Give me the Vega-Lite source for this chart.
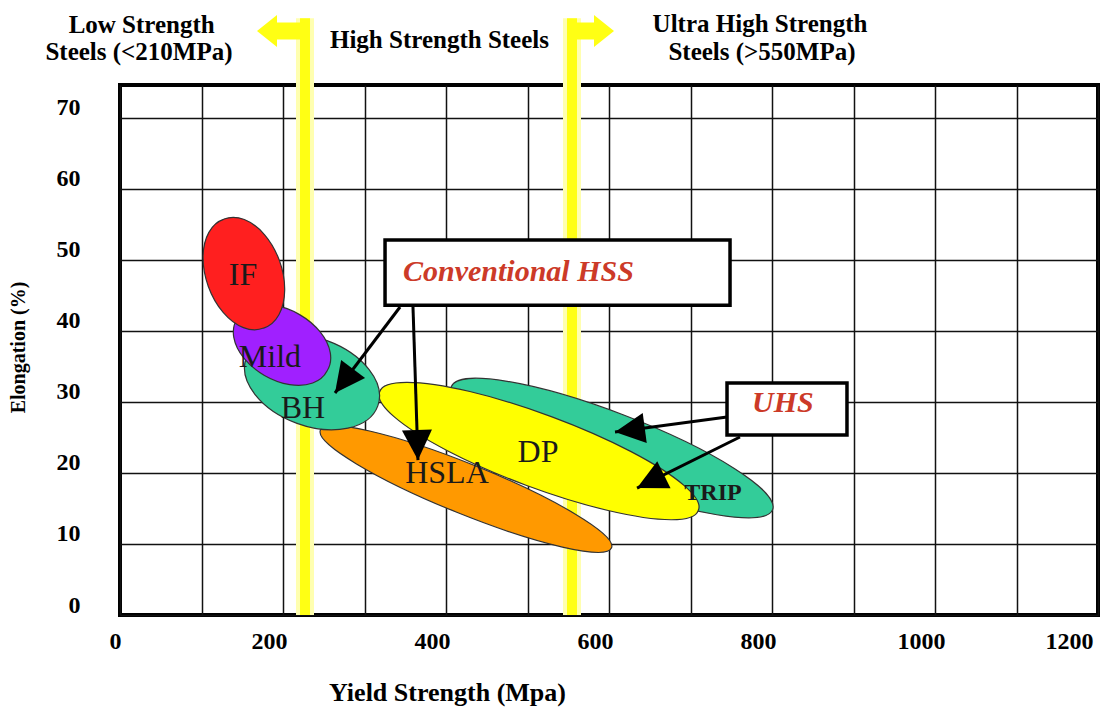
{
  "$schema": "https://vega.github.io/schema/vega-lite/v6.json",
  "width": 978,
  "height": 530,
  "autosize": {"type": "none"},
  "padding": {"left": 120, "top": 85, "right": 6, "bottom": 96},
  "background": "white",
  "config": {"view": {"stroke": "#000", "strokeWidth": 4}},
  "datasets": {
    "yellowV": [{"x": 227, "y": 0, "y2": 84}, {"x": 554.6, "y": 0, "y2": 84}],
    "yellowH": [{"x": 227, "x2": 192.6, "y": 82.2}, {"x": 554.6, "x2": 586.5, "y": 82.2}],
    "yellowHeads": [{"dir": "left", "x": 168.1, "y": 82.2}, {"dir": "right", "x": 606.1, "y": 82.2}],
    "regions": [
      {"name": "TRIP", "x": 603.7, "y": 23.5},
      {"name": "DP", "x": 514.1, "y": 23.08},
      {"name": "HSLA", "x": 424.5, "y": 17.73},
      {"name": "BH", "x": 235.6, "y": 32.8},
      {"name": "Mild", "x": 198.8, "y": 38.0},
      {"name": "IF", "x": 152.0, "y": 48.06}
    ],
    "labels": [
      {"label": "IF", "x": 150.9, "y": 47.85},
      {"label": "Mild", "x": 184.0, "y": 36.3},
      {"label": "BH", "x": 224.5, "y": 29.1},
      {"label": "HSLA", "x": 401.2, "y": 20.0},
      {"label": "DP", "x": 512.9, "y": 22.9}
    ],
    "trip": [{"label": "TRIP", "x": 727.6, "y": 17.2}],
    "boxes": [
      {"box": "Conventional HSS", "x": 325.2, "x2": 748.5, "y": 52.8, "y2": 43.6},
      {"box": "UHS", "x": 744.8, "x2": 892.0, "y": 32.65, "y2": 25.33}
    ],
    "boxText": [
      {"text": "Conventional HSS", "x": 347.2, "y": 48.3},
      {"text": "UHS", "x": 775.5, "y": 29.84}
    ],
    "arrows": [
      {"id": "A1", "x": 343.6, "y": 43.35, "x2": 263.8, "y2": 31.25},
      {"id": "A2", "x": 359.5, "y": 43.35, "x2": 365.6, "y2": 21.8},
      {"id": "A3", "x": 744.8, "y": 27.87, "x2": 607.4, "y2": 25.76},
      {"id": "A4", "x": 760.7, "y": 25.05, "x2": 634.4, "y2": 17.87}
    ],
    "arrowHeads": [
      {"id": "A1", "x": 263.8, "y": 31.25},
      {"id": "A2", "x": 365.6, "y": 21.8},
      {"id": "A3", "x": 607.4, "y": 25.76},
      {"id": "A4", "x": 634.4, "y": 17.87}
    ],
    "headers": [
      {"text": "Low Strength", "x": 26.6, "y": 83.04},
      {"text": "Steels (<210MPa)", "x": 23.3, "y": 79.24},
      {"text": "High Strength Steels", "x": 392.0, "y": 80.93},
      {"text": "Ultra High Strength", "x": 785.3, "y": 83.18},
      {"text": "Steels (>550MPa)", "x": 787.7, "y": 79.24}
    ]
  },
  "encoding": {
    "x": {
      "field": "x", "type": "quantitative",
      "scale": {"domain": [0, 1200], "nice": false, "zero": false},
      "axis": {
        "values": [0, 100, 200, 300, 400, 500, 600, 700, 800, 900, 1000, 1100, 1200],
        "format": "d",
        "labelExpr": "datum.value % 200 === 0 ? datum.label : ''",
        "grid": true, "gridColor": "#111", "gridWidth": 1.5,
        "domain": false, "ticks": false, "tickSize": 0,
        "labelFont": "Liberation Serif", "labelFontSize": 24, "labelFontWeight": "bold", "labelColor": "#000",
        "labelPadding": 14,
        "labelOffset": {"condition": {"test": "datum.value === 0 || datum.value === 1200", "value": -5}, "value": -14},
        "labelAlign": {"condition": {"test": "datum.value === 1200", "value": "right"}, "value": "center"},
        "labelFlush": false, "labelOverlap": false, "labelBaseline": "top",
        "title": "Yield Strength (Mpa)",
        "titleFont": "Liberation Serif", "titleFontSize": 26, "titleFontWeight": "bold", "titleColor": "#000",
        "titleX": 327, "titleY": 85, "titleBaseline": "alphabetic", "titleAlign": "center"
      }
    },
    "y": {
      "field": "y", "type": "quantitative",
      "scale": {"domain": [0, 74.6], "nice": false, "zero": false},
      "axis": {
        "values": [0, 10, 20, 30, 40, 50, 60, 70],
        "grid": true, "gridColor": "#111", "gridWidth": 1.5,
        "domain": false, "ticks": false, "tickSize": 0,
        "labelFont": "Liberation Serif", "labelFontSize": 24, "labelFontWeight": "bold", "labelColor": "#000",
        "labelPadding": 40, "labelOffset": -10, "labelAlign": "right", "labelBaseline": "middle",
        "labelOverlap": false, "labelFlush": false,
        "title": "Elongation (%)",
        "titleFont": "Liberation Serif", "titleFontSize": 20, "titleFontWeight": "bold", "titleColor": "#000",
        "titleAngle": -90, "titleX": -96, "titleY": 262, "titleBaseline": "alphabetic", "titleAlign": "center"
      }
    }
  },
  "layer": [
    {
      "data": {"name": "yellowV"},
      "mark": {"type": "rule", "color": "#ffffb0", "strokeWidth": 18},
      "encoding": {"y2": {"field": "y2"}}
    },
    {
      "data": {"name": "yellowV"},
      "mark": {"type": "rule", "color": "#ffff14", "strokeWidth": 10},
      "encoding": {"y2": {"field": "y2"}}
    },
    {
      "data": {"name": "yellowH"},
      "mark": {"type": "rule", "color": "#ffff14", "strokeWidth": 17},
      "encoding": {"x2": {"field": "x2"}}
    },
    {
      "data": {"name": "yellowHeads"},
      "mark": {"type": "point", "filled": true, "color": "#ffff14", "opacity": 1, "size": 400},
      "encoding": {
        "shape": {"field": "dir", "type": "nominal", "legend": null,
          "scale": {"domain": ["left", "right"], "range": ["M0,0L2,-1.6L2,1.6Z", "M0,0L-2,-1.6L-2,1.6Z"]}}
      }
    },
    {
      "data": {"name": "regions"},
      "mark": {"type": "point", "filled": true, "opacity": 1, "size": 400, "stroke": "#333", "strokeWidth": 1.2},
      "encoding": {
        "color": {"field": "name", "type": "nominal", "legend": null,
          "scale": {"domain": ["TRIP", "DP", "HSLA", "BH", "Mild", "IF"],
                    "range": ["#33cc99", "#ffff00", "#ff9900", "#33cc99", "#a020ff", "#ff1f1f"]}},
        "shape": {"field": "name", "type": "nominal", "legend": null,
          "scale": {"domain": ["TRIP", "DP", "HSLA", "BH", "Mild", "IF"],
                    "range": [
                      "M16.06,6.16A17.2,3.5,21,1,1,-16.06,-6.16A17.2,3.5,21,1,1,16.06,6.16Z",
                      "M15.93,5.93A17,3.6,20.4,1,1,-15.93,-5.93A17,3.6,20.4,1,1,15.93,5.93Z",
                      "M14.56,5.88A15.7,2.5,22,1,1,-14.56,-5.88A15.7,2.5,22,1,1,14.56,5.88Z",
                      "M6.58,2.39A7,4.4,20,1,1,-6.58,-2.39A7,4.4,20,1,1,6.58,2.39Z",
                      "M4.5,2.6A5.2,3.4,30,1,1,-4.5,-2.6A5.2,3.4,30,1,1,4.5,2.6Z",
                      "M1.98,5.45A5.8,3.7,70,1,1,-1.98,-5.45A5.8,3.7,70,1,1,1.98,5.45Z"
                    ]}}
      }
    },
    {
      "data": {"name": "labels"},
      "mark": {"type": "text", "font": "Liberation Serif", "fontSize": 32, "color": "#1a1a1a", "align": "center", "baseline": "middle"},
      "encoding": {"text": {"field": "label"}}
    },
    {
      "data": {"name": "trip"},
      "mark": {"type": "text", "font": "Liberation Serif", "fontSize": 24, "fontWeight": "bold", "color": "#1a1a1a", "align": "center", "baseline": "middle"},
      "encoding": {"text": {"field": "label"}}
    },
    {
      "data": {"name": "boxes"},
      "mark": {"type": "rect", "fill": "white", "stroke": "#000", "strokeWidth": 3.5},
      "encoding": {"x2": {"field": "x2"}, "y2": {"field": "y2"}}
    },
    {
      "data": {"name": "boxText"},
      "mark": {"type": "text", "font": "Liberation Serif", "fontSize": 30, "fontWeight": "bold", "fontStyle": "italic", "color": "#cc3a28", "align": "left", "baseline": "middle"},
      "encoding": {"text": {"field": "text"}}
    },
    {
      "data": {"name": "arrows"},
      "mark": {"type": "rule", "color": "#000", "strokeWidth": 3},
      "encoding": {"x2": {"field": "x2"}, "y2": {"field": "y2"}}
    },
    {
      "data": {"name": "arrowHeads"},
      "mark": {"type": "point", "filled": true, "color": "#000", "opacity": 1, "size": 400},
      "encoding": {
        "shape": {"field": "id", "type": "nominal", "legend": null,
          "scale": {"domain": ["A1", "A2", "A3", "A4"],
                    "range": ["M0,0L0.61,-3.3L3.01,-1.49Z", "M0,0L-1.6,-2.95L1.4,-3.05Z", "M0,0L2.77,-1.89L3.17,1.09Z", "M0,0L2.02,-2.68L3.35,0.01Z"]}}
      }
    },
    {
      "data": {"name": "headers"},
      "mark": {"type": "text", "font": "Liberation Serif", "fontSize": 25, "fontWeight": "bold", "color": "#000", "align": "center", "baseline": "middle"},
      "encoding": {"text": {"field": "text"}}
    }
  ],
  "resolve": {"scale": {"shape": "independent", "color": "independent"}}
}
